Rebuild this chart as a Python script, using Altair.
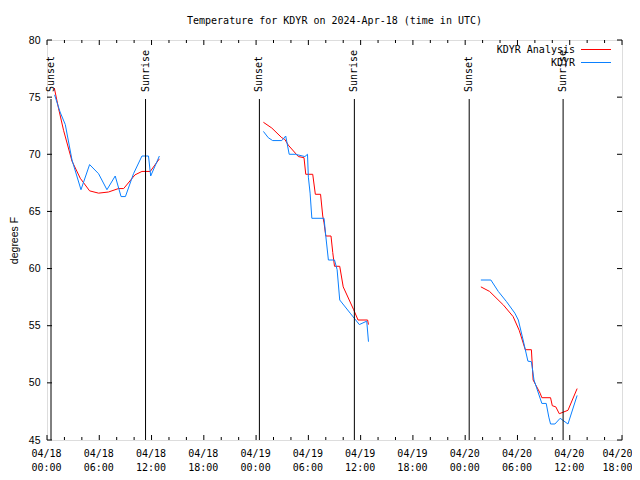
import altair as alt
import pandas as pd

# hours since 2024-04-18 00:00 UTC
ana1_h = [0.84, 1.33, 1.9, 2.87, 3.82, 4.89, 5.92, 7.06, 8.2, 8.8, 10.1, 10.9, 11.85, 12.9]
ana1_t = [75.8, 74.0, 72.1, 69.4, 67.9, 66.8, 66.6, 66.7, 67.0, 67.0, 68.2, 68.5, 68.5, 69.6]
obs1_h = [0.87, 1.5, 2.1, 2.87, 3.9, 4.89, 5.92, 6.88, 7.83, 8.5, 9.0, 9.93, 10.9, 11.65, 11.9, 12.9]
obs1_t = [75.2, 73.7, 72.6, 69.5, 66.9, 69.1, 68.3, 66.9, 68.1, 66.3, 66.3, 68.3, 69.85, 69.85, 68.1, 69.85]

ana2_h = [24.84, 25.8, 26.95, 27.3, 27.7, 28.85, 29.5, 29.7, 30.5, 30.8, 31.4, 31.65, 31.8, 32.0, 32.6, 32.8, 33.0, 33.6, 34.0, 35.2, 35.7, 36.8, 36.9]
ana2_t = [72.8, 72.3, 71.45, 71.3, 70.8, 69.8, 69.7, 68.25, 68.25, 66.5, 66.5, 64.6, 64.0, 62.85, 62.85, 61.4, 60.2, 60.2, 58.4, 56.4, 55.5, 55.5, 55.1]
obs2_h = [24.84, 25.4, 25.9, 26.95, 27.4, 27.8, 28.5, 29.6, 29.9, 30.0, 30.2, 30.4, 31.8, 32.0, 32.3, 33.0, 33.3, 33.6, 34.8, 35.85, 36.7, 36.9]
obs2_t = [72.0, 71.45, 71.2, 71.2, 71.6, 70.0, 70.0, 69.8, 70.0, 68.0, 66.6, 64.4, 64.4, 62.85, 60.75, 60.75, 59.9, 57.25, 56.1, 55.1, 55.4, 53.6]

ana3_h = [49.8, 50.8, 52.4, 53.5, 54.2, 54.9, 55.6, 55.8, 56.6, 56.8, 57.8, 58.0, 58.4, 58.8, 59.8, 60.85]
ana3_t = [58.4, 58.0, 56.8, 55.8, 54.6, 52.9, 52.9, 50.25, 49.1, 48.7, 48.7, 48.0, 47.9, 47.3, 47.6, 49.5]
obs3_h = [49.8, 50.95, 51.8, 52.75, 53.7, 54.1, 54.65, 55.2, 55.6, 55.9, 56.8, 57.3, 57.6, 57.8, 58.3, 58.9, 59.8, 60.85]
obs3_t = [59.0, 59.0, 58.0, 57.1, 56.1, 55.5, 53.75, 51.9, 51.85, 50.25, 48.2, 48.2, 47.0, 46.4, 46.4, 46.9, 46.4, 48.9]

sun_h = [0.46, 11.31, 24.38, 35.28, 48.46, 59.24]
sun_lab = ["Sunset", "Sunrise", "Sunset", "Sunrise", "Sunset", "Sunrise"]

major_x = [0, 6, 12, 18, 24, 30, 36, 42, 48, 54, 60, 66]
minor_x = [2, 4, 8, 10, 14, 16, 20, 22, 26, 28, 32, 34, 38, 40, 44, 46, 50, 52, 56, 58, 62, 64]
y_ticks = [45, 50, 55, 60, 65, 70, 75, 80]

legend_names = ["KDYR Analysis", "KDYR"]
legend_colors = ["#ff0000", "#0a80ff"]

W, H = 575, 400
MONO = "DejaVu Sans Mono"
SANS = "Liberation Sans"

rows = []
for seg, (hs, ts) in enumerate([(ana1_h, ana1_t), (ana2_h, ana2_t), (ana3_h, ana3_t)]):
    for h, t in zip(hs, ts):
        rows.append({"h": h, "t": t, "seg": seg, "series": "KDYR Analysis"})
for seg, (hs, ts) in enumerate([(obs1_h, obs1_t), (obs2_h, obs2_t), (obs3_h, obs3_t)]):
    for h, t in zip(hs, ts):
        rows.append({"h": h, "t": t, "seg": seg, "series": "KDYR"})
df = pd.DataFrame(rows)

xscale = alt.Scale(domain=[0, 66], nice=False, zero=False)
yscale = alt.Scale(domain=[45, 80], nice=False, zero=False)

label_expr = ("['04/' + (18 + floor(datum.value / 24)), "
              "((datum.value % 24) < 10 ? '0' : '') + (datum.value % 24) + ':00']")

x_axis = alt.Axis(values=major_x, labelExpr=label_expr, ticks=False, tickSize=0, domain=False,
                  grid=False, labelFont=MONO, labelFontSize=10, labelPadding=8,
                  labelLineHeight=14, title=None, labelColor="black",
                  labelFlush=False, labelOverlap=False, labelBound=False,
                  labelOffset={"condition": {"test": "datum.value == 66", "value": -5},
                               "value": -1})
y_axis = alt.Axis(values=y_ticks, ticks=False, tickSize=0, domain=False, grid=False,
                  labelFont=SANS, labelFontSize=10.5, labelPadding=7, title="degrees F",
                  titleFont=SANS, titleFontSize=10.5, titleFontWeight="normal",
                  titlePadding=9, labelColor="black", titleColor="black",
                  labelFlush=False)

def series_line(name, color):
    return alt.Chart(df[df.series == name]).mark_line(strokeWidth=1, color=color).encode(
        x=alt.X("h:Q", scale=xscale, axis=x_axis),
        y=alt.Y("t:Q", scale=yscale, axis=y_axis),
        detail="seg:N",
        order="h:Q",
    )

lines = series_line("KDYR Analysis", legend_colors[0]) + series_line("KDYR", legend_colors[1])

sun_df = pd.DataFrame({"h": sun_h, "lab": sun_lab})
sun_rules = alt.Chart(sun_df).mark_rule(color="black", strokeWidth=1).encode(
    x=alt.X("h:Q", scale=xscale), y=alt.value(59), y2=alt.value(H))
sun_text = alt.Chart(sun_df).mark_text(angle=270, align="left", baseline="middle",
                                       font=MONO, fontSize=10, color="black").encode(
    x=alt.X("h:Q", scale=xscale), y=alt.value(52), text="lab:N")

maj_df = pd.DataFrame({"h": major_x})
min_df = pd.DataFrame({"h": minor_x})
yt_df = pd.DataFrame({"t": y_ticks})

def xticks(d, ln):
    bot = alt.Chart(d).mark_rule(color="black").encode(
        x=alt.X("h:Q", scale=xscale), y=alt.value(H), y2=alt.value(H - ln))
    top = alt.Chart(d).mark_rule(color="black").encode(
        x=alt.X("h:Q", scale=xscale), y=alt.value(0), y2=alt.value(ln))
    return bot + top

yt_left = alt.Chart(yt_df).mark_rule(color="black").encode(
    y=alt.Y("t:Q", scale=yscale), x=alt.value(0), x2=alt.value(5))
yt_right = alt.Chart(yt_df).mark_rule(color="black").encode(
    y=alt.Y("t:Q", scale=yscale), x=alt.value(W), x2=alt.value(W - 5))

leg_df = pd.DataFrame({"name": legend_names, "color": legend_colors, "i": [0, 1]})
leg_layers = []
for i, (n, c) in enumerate(zip(legend_names, legend_colors)):
    one = leg_df[leg_df.i == i]
    leg_layers.append(alt.Chart(one).mark_text(align="right", baseline="middle", font=MONO,
                                               fontSize=10, color="black").encode(
        x=alt.value(528), y=alt.value(10 + 13 * i), text="name:N"))
    leg_layers.append(alt.Chart(one).mark_rule(color=c, strokeWidth=1).encode(
        x=alt.value(534), x2=alt.value(564), y=alt.value(9.5 + 13 * i)))

chart = alt.layer(
    lines, sun_rules, sun_text, xticks(maj_df, 5), xticks(min_df, 3), yt_left, yt_right,
    *leg_layers
).properties(
    width=W, height=H,
    title=alt.TitleParams("Temperature for KDYR on 2024-Apr-18 (time in UTC)", font=MONO,
                          fontSize=10, fontWeight="normal", color="black", offset=9,
                          anchor="middle", frame="group"),
    autosize=alt.AutoSizeParams(type="none"),
    padding={"left": 39, "top": 32, "right": 10, "bottom": 32},
).configure_view(stroke="black", strokeWidth=1).configure(background="white")

chart.save("out.html", embed_options={"renderer": "svg", "actions": False})
